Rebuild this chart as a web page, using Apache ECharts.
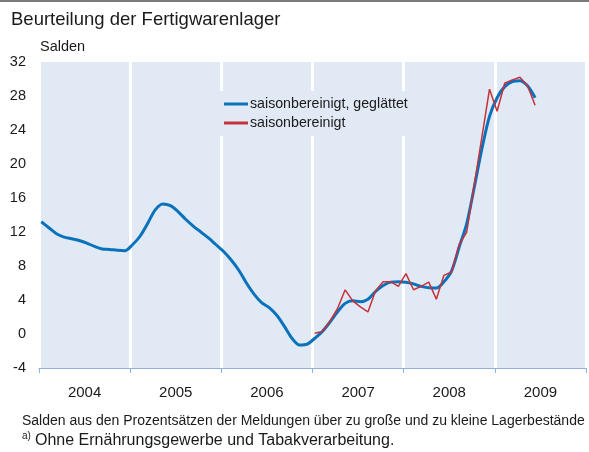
<!DOCTYPE html>
<html><head><meta charset="utf-8">
<script src="https://cdn.jsdelivr.net/npm/echarts@6/dist/echarts.min.js"></script>
<style>html,body{margin:0;padding:0;background:#fff}#c{width:589px;height:452px}</style>
</head><body><div id="c"></div>
<script>
const years = ['2004','2005','2006','2007','2008','2009'];
const yTicks = [-4,0,4,8,12,16,20,24,28,32];
// month index 0 = Jan 2004
const smoothedStart = 0;
const smoothed = [13.2,12.5,11.8,11.4,11.2,11.0,10.7,10.3,10.0,9.95,9.85,9.8,
  10.5,11.5,13.0,14.6,15.3,15.1,14.4,13.5,12.7,12.0,11.3,10.5,
  9.7,8.7,7.5,6.0,4.7,3.7,3.1,2.2,0.9,-0.5,-1.3,-1.2,
  -0.5,0.3,1.4,2.6,3.6,3.9,3.8,4.1,5.0,5.7,6.1,6.15,
  6.1,5.9,5.6,5.45,5.4,6.15,7.4,10.2,13.0,17.3,21.8,25.6,
  27.8,29.1,29.7,29.8,29.2,27.8];
const adjustedStart = 36;
const adjusted = [0.1,0.3,1.5,3.0,5.2,3.9,3.2,2.6,5.1,6.15,6.15,5.6,
  7.1,5.2,5.6,6.1,4.1,6.9,7.3,10.5,12.0,17.6,23.2,28.8,
  26.2,29.5,29.9,30.2,29.2,26.9];
const seriesNames = ['saisonbereinigt, geglättet','saisonbereinigt'];
const inMonth = 0.3;

const toXY = (arr, start) => arr.map((v,i)=>[start+i+inMonth, v]);
const font = 'Liberation Sans, Arial, sans-serif';
const bg = '#e1e9f4';

const chart = echarts.init(document.getElementById('c'));
chart.setOption({
  animation:false,
  textStyle:{fontFamily:font},
  grid:{left:39,right:3,top:62,bottom:84,show:true,backgroundColor:bg,borderWidth:0},
  title:{text:'Beurteilung der Fertigwarenlager',left:6,top:5,
    textStyle:{fontSize:18.5,fontWeight:'normal',color:'#1a1a1a',fontFamily:font}},
  xAxis:[{type:'value',min:0,max:72,interval:12,
      axisLine:{show:true,onZero:false,lineStyle:{color:'#8fb1da',width:1}},
      axisTick:{show:true,length:5,lineStyle:{color:'#8fb1da'}},
      axisLabel:{show:false},
      splitLine:{show:true,lineStyle:{color:'#ffffff',width:3}}},
    {type:'category',data:years,position:'bottom',boundaryGap:true,
      axisLine:{show:false},axisTick:{show:false},splitLine:{show:false},
      axisLabel:{fontSize:15,color:'#1a1a1a',margin:17,fontFamily:font}}],
  yAxis:{type:'value',min:yTicks[0],max:yTicks[yTicks.length-1],interval:4,
    name:'Salden',nameLocation:'end',nameGap:8,
    nameTextStyle:{fontSize:14.5,color:'#1a1a1a',align:'left',padding:[0,0,0,1],fontFamily:font},
    axisLine:{show:false},axisTick:{show:false},splitLine:{show:false},
    axisLabel:{fontSize:14.5,color:'#1a1a1a',margin:13,fontFamily:font}},
  legend:{orient:'vertical',left:218,top:91,padding:[6,6,6,6],itemGap:5,
    backgroundColor:bg,itemWidth:24,itemHeight:3,
    textStyle:{fontSize:14.2,color:'#1a1a1a',fontFamily:font,padding:[0,0,0,-3]},
    data:[{name:seriesNames[0],icon:'rect',itemStyle:{color:'#0a72bb'}},
          {name:seriesNames[1],icon:'rect',itemStyle:{color:'#c8303a'}}]},
  series:[
    {name:seriesNames[0],type:'line',data:toXY(smoothed,smoothedStart),showSymbol:false,
      smooth:0.3,lineStyle:{color:'#0a72bb',width:3},itemStyle:{color:'#0a72bb'},z:2},
    {name:seriesNames[1],type:'line',data:toXY(adjusted,adjustedStart),showSymbol:false,
      lineStyle:{color:'#c8303a',width:1.5},itemStyle:{color:'#c8303a'},z:3}
  ],
  graphic:[
    {type:'line',shape:{x1:0,y1:1,x2:589,y2:1},style:{stroke:'#7a7a7a',lineWidth:2}},
    {type:'text',left:22,top:414,style:{text:'Salden aus den Prozentsätzen der Meldungen über zu große und zu kleine Lagerbestände',
      font:'14px '+font,fill:'#1a1a1a'}},
    {type:'text',left:22,top:431,style:{text:'a)',font:'10px '+font,fill:'#1a1a1a'}},
    {type:'text',left:35,top:433,style:{text:'Ohne Ernährungsgewerbe und Tabakverarbeitung.',
      font:'16px '+font,fill:'#1a1a1a'}}
  ]
});
</script></body></html>
